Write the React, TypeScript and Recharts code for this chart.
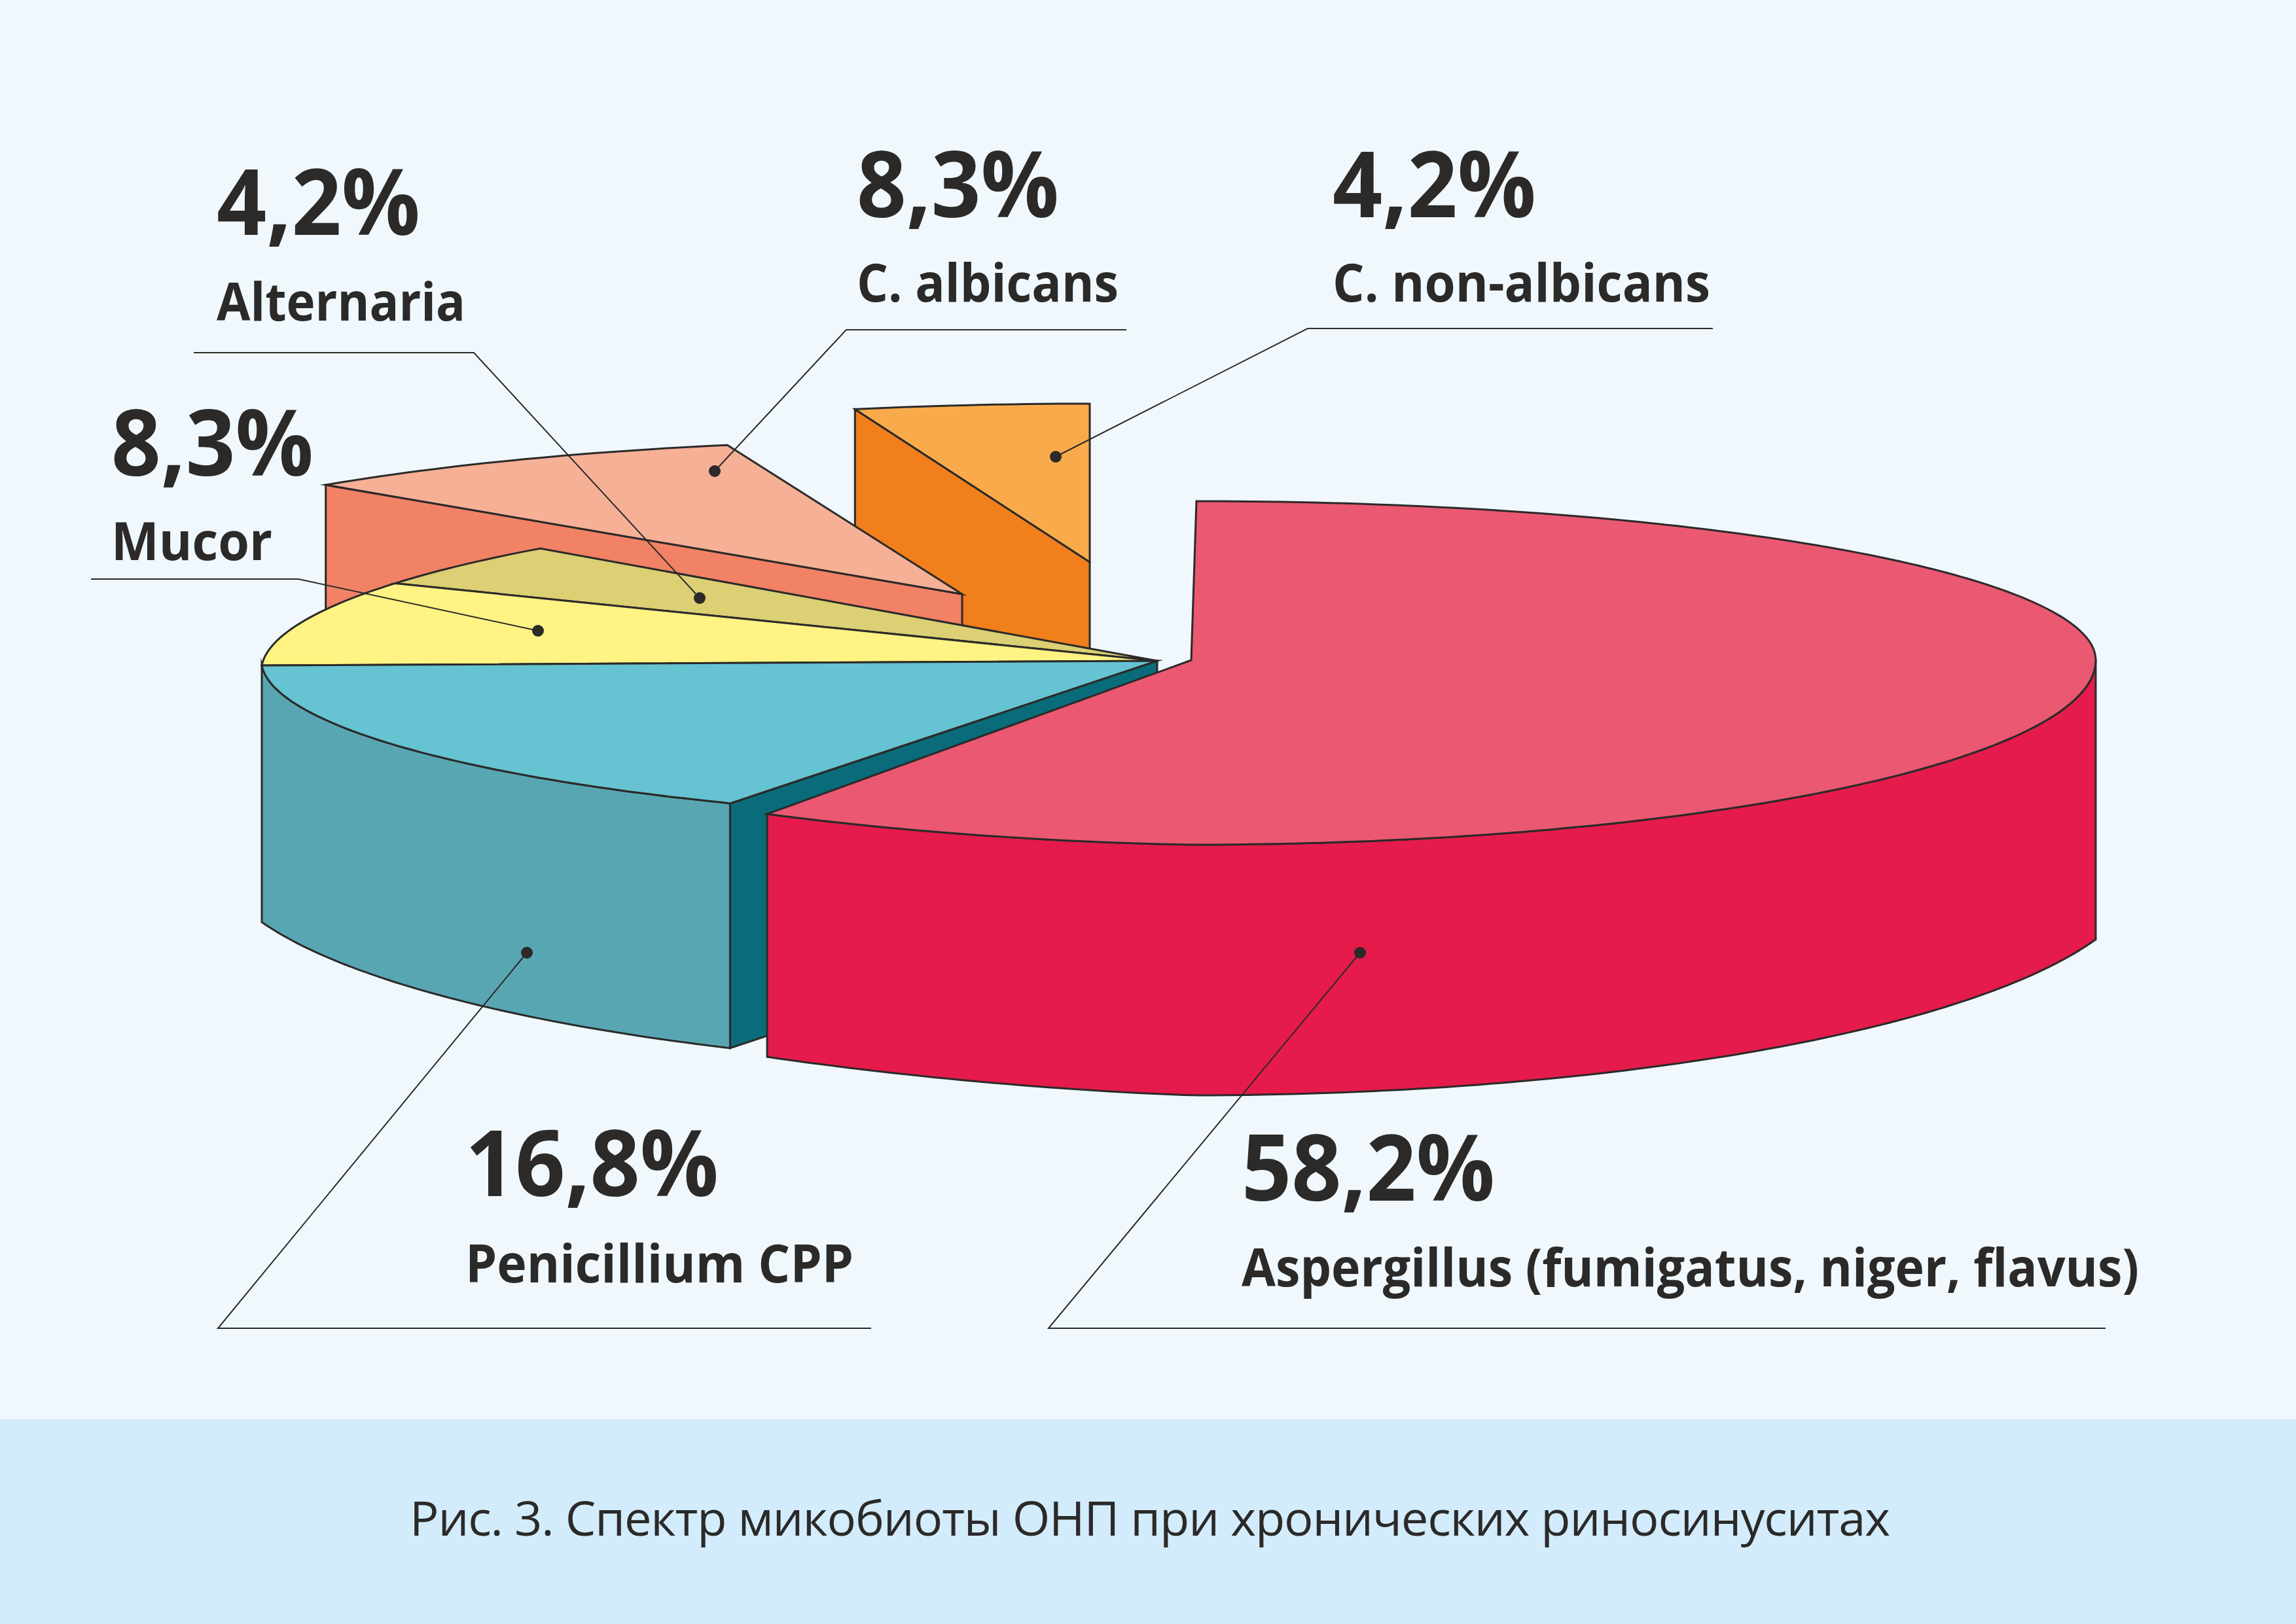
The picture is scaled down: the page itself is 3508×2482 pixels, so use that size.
import React from 'react';
import { PieChart, Pie } from 'recharts';

const WIDTH = 3508;
const HEIGHT = 2482;

// drawn back to front, counter-clockwise from 12 o'clock
const categories = ['C. non-albicans', 'C. albicans', 'Alternaria', 'Mucor', 'Penicillium CPP', 'Aspergillus (fumigatus, niger, flavus)'];
const shares = [4.2, 8.3, 4.2, 8.3, 16.8, 58.2];
const shareLabels = ['4,2%', '8,3%', '4,2%', '8,3%', '16,8%', '58,2%'];
const caption = 'Рис. 3. Спектр микобиоты ОНП при хронических риносинуситах';

const data = categories.map((name, i) => ({ name, value: shares[i], text: shareLabels[i] }));

const INK = '#2b2a29';
const FONT = '"Open Sans", sans-serif';
const CX = 1768;
const CY = 1010;
const RX = 1375;

// how each slice is pulled out of the pie and coloured
const FRONT = { dx: 0, dy: 0, dr: -7, upper: 250, warp: 50, tilt: 7, sag: 36 };
const sliceStyle: Record<string, any> = {
  'C. non-albicans': { dx: -103, dy: -151, dr: 0, top: '#f9ab4b', side: '#f07f1c', upper: 242, warp: 0, tilt: 0, sag: 0 },
  'C. albicans': { dx: -298, dy: -102, dr: 0, top: '#f6b096', side: '#f18266', upper: 236, warp: 0, tilt: 0, sag: 0 },
  Alternaria: { ...FRONT, top: '#dccf74' },
  Mucor: { ...FRONT, top: '#fff383' },
  'Penicillium CPP': { ...FRONT, top: '#66c3d1', wall: '#59a6b3', side: '#0a6b7a', base: 295, depth: 333, depthSag: 0 },
  'Aspergillus (fumigatus, niger, flavus)': {
    dx: 52, dy: -1, dr: 7, top: '#eb5872', wall: '#e51b4b', upper: 243, warp: 77, tilt: 0, sag: 12, lean: 8,
    base: 318, depth: 347, depthSag: 25,
  },
};

// where each label sits, with its leader line
const labelStyle: Record<string, any> = {
  'C. non-albicans': { x: 2036, pctY: 332, pctW: 311, nameY: 461, nameW: 577, line: [[2617, 502], [1998, 502], [1613, 698]] },
  'C. albicans': { x: 1309, pctY: 332, pctW: 309, nameY: 461, nameW: 400, line: [[1721, 504], [1293, 504], [1092, 720]] },
  Alternaria: { x: 331, pctY: 359, pctW: 311, nameY: 490, nameW: 380, line: [[296, 539], [724, 539], [1069, 914]] },
  Mucor: { x: 170, pctY: 727, pctW: 309, nameY: 856, nameW: 246, line: [[139, 885], [456, 885], [822, 964]] },
  'Penicillium CPP': { x: 711, pctY: 1828, pctW: 387, nameY: 1960, nameW: 593, line: [[1331, 2030], [333, 2030], [805, 1456]] },
  'Aspergillus (fumigatus, niger, flavus)': { x: 1897, pctY: 1835, pctW: 387, nameY: 1966, nameW: 1371, line: [[3217, 2030], [1602, 2030], [2078, 1456]] },
};

const rad = (a: number) => (a * Math.PI) / 180;

// 3D look: the rim is not a true ellipse, it is flatter above the centre line than below it
const rimPoint = (cx: number, cy: number, rx: number, st: any, a: number) => {
  const c = Math.cos(rad(a));
  const s = Math.sin(rad(a));
  const left = Math.max(0, -c);
  const lower = 282 - st.sag * Math.min(1, left / 0.5);
  const x = cx + rx * c + st.warp * left * Math.abs(s) + (st.lean || 0) * Math.pow(Math.max(0, s), 8);
  const y = cy - (s > 0 ? st.upper : lower) * s + st.tilt * left;
  return [x, y];
};

// lower edge of the wall is a wider ellipse cut off at the rim's extremes, so it meets them at a corner
const bottomY = (x: number, cx: number, cy: number, rx: number, st: any) => {
  const dx = x - cx;
  const q = 1 - Math.pow(dx / (rx * 1.053), 2);
  const depth = st.depth - (dx < 0 ? st.depthSag * Math.min(1, -dx / 647) : 0);
  return cy + st.base + depth * Math.sqrt(Math.max(0, q));
};

const toPath = (pts: number[][], close = true) =>
  pts.map((p, i) => `${i ? 'L' : 'M'}${p[0].toFixed(1)} ${p[1].toFixed(1)}`).join(' ') + (close ? ' Z' : '');

const Slice3D = (props: any) => {
  const { cx, cy, outerRadius, startAngle, endAngle, name } = props;
  const st = sliceStyle[name];
  const x0 = cx + st.dx;
  const y0 = cy + st.dy;
  const rx = outerRadius + st.dr;
  const angles: number[] = [];
  for (let a = startAngle; a < endAngle; a += 1) angles.push(a);
  angles.push(endAngle);
  const rim = angles.map((a) => rimPoint(x0, y0, rx, st, a));
  const apex = [x0, y0];
  const strokeProps = { stroke: INK, strokeWidth: 3, strokeLinejoin: 'miter' as const, strokeMiterlimit: 12 };

  const parts: React.ReactNode[] = [];
  // flat cut wall on the far edge of the slice, facing the viewer
  if (st.side) {
    const edge = rim[rim.length - 1];
    const drop = st.wall ? bottomY(edge[0], x0, y0, rx, st) - edge[1] : 380;
    parts.push(
      <path
        key="side"
        d={toPath([apex, edge, [edge[0], edge[1] + drop], [apex[0], apex[1] + drop]])}
        fill={st.side}
        {...strokeProps}
      />
    );
  }
  // curved outer wall, only where the rim is on the front half
  if (st.wall) {
    const front = angles.filter((a) => Math.sin(rad(a)) <= 0.02);
    const upperEdge = front.map((a) => rimPoint(x0, y0, rx, st, a));
    const lowerEdge = upperEdge.map((p) => [p[0], bottomY(p[0], x0, y0, rx, st)]);
    parts.push(
      <path key="wall" d={toPath([...upperEdge, ...lowerEdge.reverse()])} fill={st.wall} {...strokeProps} />
    );
  }
  parts.push(<path key="top" d={toPath([apex, ...rim])} fill={st.top} {...strokeProps} />);
  return <g>{parts}</g>;
};

const SliceLabel = (props: any) => {
  const { name, payload } = props;
  const st = labelStyle[name];
  const [a, b, c] = st.line;
  const text = payload?.text ?? data.find((d) => d.name === name)?.text;
  return (
    <g>
      <polyline points={`${a[0]},${a[1]} ${b[0]},${b[1]} ${c[0]},${c[1]}`} fill="none" stroke={INK} strokeWidth={2} />
      <circle cx={c[0]} cy={c[1]} r={9} fill={INK} />
      <text
        x={st.x}
        y={st.pctY}
        fontFamily={FONT}
        fontWeight={700}
        fontSize={140}
        fill={INK}
        textAnchor="start"
        textLength={st.pctW}
        lengthAdjust="spacingAndGlyphs"
      >
        {text}
      </text>
      <text
        x={st.x}
        y={st.nameY}
        fontFamily={FONT}
        fontWeight={700}
        fontSize={80}
        fill={INK}
        textAnchor="start"
        textLength={st.nameW}
        lengthAdjust="spacingAndGlyphs"
      >
        {name}
      </text>
    </g>
  );
};

export default function App() {
  return (
    <div style={{ position: 'absolute', left: 0, top: 0, width: WIDTH, height: HEIGHT, background: '#f0f8fe' }}>
      <svg width={WIDTH} height={HEIGHT} style={{ position: 'absolute', left: 0, top: 0 }}>
        <rect x={0} y={2169} width={WIDTH} height={HEIGHT - 2169} fill="#d3ecfb" />
        <text x={626} y={2347} fontFamily={FONT} fontSize={74} fill={INK} textLength={2262}>
          {caption}
        </text>
      </svg>
      <div style={{ position: 'absolute', left: 0, top: 0 }}>
        <PieChart width={WIDTH} height={HEIGHT} margin={{ top: 0, right: 0, bottom: 0, left: 0 }}>
          <Pie
            data={data}
            dataKey="value"
            nameKey="name"
            cx={CX}
            cy={CY}
            innerRadius={0}
            outerRadius={RX}
            startAngle={90}
            endAngle={450}
            paddingAngle={0}
            stroke="none"
            shape={Slice3D}
            label={SliceLabel}
            labelLine={false}
            isAnimationActive={false}
          />
        </PieChart>
      </div>
    </div>
  );
}
